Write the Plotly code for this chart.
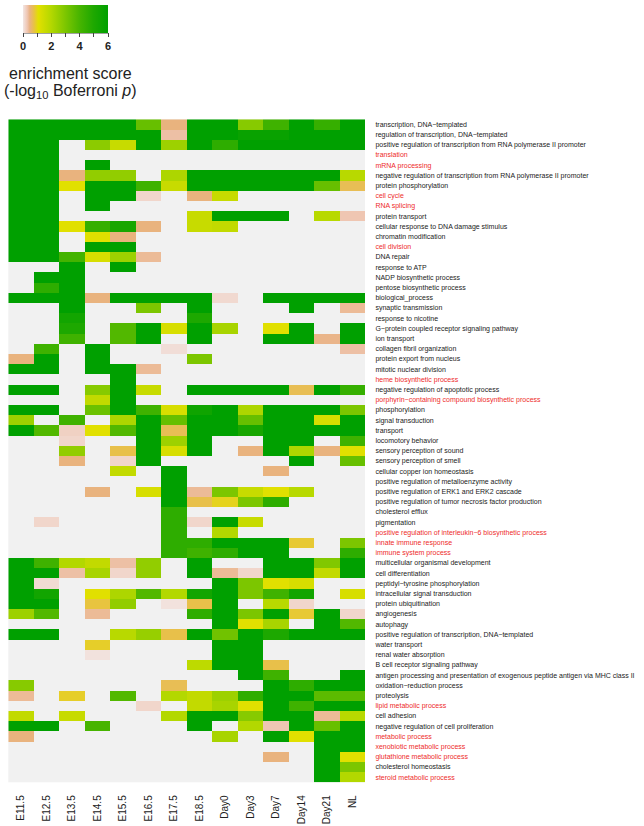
import plotly.graph_objects as go

N = None

timepoints = ["E11.5", "E12.5", "E13.5", "E14.5", "E15.5", "E16.5", "E17.5",
              "E18.5", "Day0", "Day3", "Day7", "Day14", "Day21", "NL"]

terms = [
    "transcription, DNA\u2212templated",
    "regulation of transcription, DNA\u2212templated",
    "positive regulation of transcription from RNA polymerase II promoter",
    "translation",
    "mRNA processing",
    "negative regulation of transcription from RNA polymerase II promoter",
    "protein phosphorylation",
    "cell cycle",
    "RNA splicing",
    "protein transport",
    "cellular response to DNA damage stimulus",
    "chromatin modification",
    "cell division",
    "DNA repair",
    "response to ATP",
    "NADP biosynthetic process",
    "pentose biosynthetic process",
    "biological_process",
    "synaptic transmission",
    "response to nicotine",
    "G\u2212protein coupled receptor signaling pathway",
    "ion transport",
    "collagen fibril organization",
    "protein export from nucleus",
    "mitotic nuclear division",
    "heme biosynthetic process",
    "negative regulation of apoptotic process",
    "porphyrin\u2212containing compound biosynthetic process",
    "phosphorylation",
    "signal transduction",
    "transport",
    "locomotory behavior",
    "sensory perception of sound",
    "sensory perception of smell",
    "cellular copper ion homeostasis",
    "positive regulation of metalloenzyme activity",
    "positive regulation of ERK1 and ERK2 cascade",
    "positive regulation of tumor necrosis factor production",
    "cholesterol efflux",
    "pigmentation",
    "positive regulation of interleukin\u22126 biosynthetic process",
    "innate immune response",
    "immune system process",
    "multicellular organismal development",
    "cell differentiation",
    "peptidyl\u2212tyrosine phosphorylation",
    "intracellular signal transduction",
    "protein ubiquitination",
    "angiogenesis",
    "autophagy",
    "positive regulation of transcription, DNA\u2212templated",
    "water transport",
    "renal water absorption",
    "B cell receptor signaling pathway",
    "antigen processing and presentation of exogenous peptide antigen via MHC class II",
    "oxidation\u2212reduction process",
    "proteolysis",
    "lipid metabolic process",
    "cell adhesion",
    "negative regulation of cell proliferation",
    "metabolic process",
    "xenobiotic metabolic process",
    "glutathione metabolic process",
    "cholesterol homeostasis",
    "steroid metabolic process",
]

highlighted_terms = [
    "translation", "mRNA processing", "cell cycle", "RNA splicing", "cell division",
    "heme biosynthetic process",
    "porphyrin\u2212containing compound biosynthetic process",
    "positive regulation of interleukin\u22126 biosynthetic process",
    "innate immune response", "immune system process",
    "lipid metabolic process", "metabolic process", "xenobiotic metabolic process",
    "glutathione metabolic process", "steroid metabolic process",
]

# enrichment score (-log10 Bonferroni p), one list per time point, rows in term order
E11_5 = [6, 6, 6, 6, 6, 6, 6, 6, 6, 6,
         6, 6, 6, 6, N, N, N, 6, N, N,
         N, N, N, 0.5, 6, N, 6, N, 6, 2.4,
         6, N, N, N, N, N, N, N, N, N,
         N, N, N, 6, 6, 6, 6, 6, 2.4, N,
         6, N, N, N, N, 2.8, 0.4, N, 1.7, 6,
         0.5, N, N, N, N]
E12_5 = [6, 6, 6, 6, 6, 6, 6, 6, 6, 6,
         6, 6, 6, 6, N, 6, 4.6, 6, N, N,
         N, N, 4.2, 6, 6, N, 6, N, 6, N,
         3.8, N, N, N, N, N, N, N, N, 0.15,
         N, N, N, 4.2, 6, 0.1, 5.4, 6, 3.8, N,
         6, N, N, N, N, N, N, N, N, 6,
         N, N, N, N, N]
E13_5 = [6, 6, N, N, N, 0.5, 1.1, N, N, N,
         1.1, N, N, 4.1, 6, 6, 6, 6, 6, 5.4,
         5.0, 4.2, N, N, N, N, N, N, N, 4.2,
         0.2, 0.15, 2.6, 0.5, N, N, N, N, N, N,
         N, N, N, 2.0, 0.35, N, N, N, N, N,
         N, N, N, N, N, N, 0.9, N, 1.6, N,
         N, N, N, N, N]
E14_5 = [6, 6, 2.7, N, 6, 2.6, 6, 6, 6, N,
         4.4, 1.1, 6, 1.3, N, N, N, 0.5, N, N,
         N, N, 6, 6, 6, N, 2.8, 1.7, 3.3, N,
         1.1, N, N, N, N, N, 0.5, N, N, N,
         N, N, N, 1.7, 2.2, N, 1.1, 0.8, 0.4, N,
         N, 0.9, 0.04, N, N, N, N, N, N, 4.0,
         N, N, N, N, N]
E15_5 = [6, 6, 1.6, N, N, 2.6, 6, 6, N, N,
         5.2, 0.5, 6, 2.4, 6, N, N, 6, N, N,
         3.8, 3.8, N, N, 6, 6, 6, 6, 6, 2.1,
         3.8, N, 0.75, 0.15, 1.7, N, N, N, N, N,
         N, N, N, 0.35, 0.15, N, 2.1, 2.6, N, N,
         1.9, N, N, N, N, N, 3.8, N, N, N,
         N, N, N, N, N]
E16_5 = [3.4, 6, 6, N, N, N, 4.2, 0.15, N, N,
         0.5, N, N, 0.4, N, N, N, 6, 3.0, N,
         6, 6, N, N, 0.4, N, 1.6, N, 4.2, 6,
         6, 6, 6, 6, N, N, 1.3, N, N, N,
         N, N, N, 2.6, 2.6, N, 3.8, N, N, N,
         2.5, N, N, N, N, N, N, 0.15, N, N,
         N, N, N, N, N]
E17_5 = [0.5, 0.35, 2.4, N, N, 2.1, 1.6, N, N, N,
         N, N, N, N, N, N, N, 6, N, N,
         1.3, N, 0.08, N, N, N, N, N, 1.3, 3.4,
         0.7, 2.4, 1.3, N, 6, 6, 6, 6, 4.6, 4.6,
         4.6, 4.6, 4.6, N, N, N, 2.0, 0.04, N, N,
         0.75, N, N, N, N, 0.7, 2.0, N, 2.0, N,
         N, N, N, N, N]
E18_5 = [6, 6, 6, N, N, 6, 6, 0.5, N, 1.6,
         1.6, N, N, N, N, N, N, 6, 6, 5.0,
         6, 6, N, 3.0, N, N, 6, N, 5.5, 6,
         6, 6, 6, N, N, N, 0.4, 0.75, N, 0.15,
         N, 4.6, 4.2, 6, 6, N, 5.4, 0.75, 4.6, N,
         6, N, N, 1.8, N, N, 1.7, 1.7, 6, 6,
         N, N, N, N, N]
Day0 = [6, 6, 4.6, N, N, 6, 6, 1.6, N, 6,
        1.7, N, N, N, N, N, N, 0.12, N, N,
        2.2, N, N, N, N, N, 6, N, 6, 6,
        6, N, N, N, N, N, 3.0, 0.95, N, 6,
        2.0, 6, 4.6, N, 0.4, 6, 6, 6, 6, 6,
        3.2, 6, 6, 6, N, N, 2.4, 2.2, 6, N,
        2.2, N, N, N, N]
Day3 = [2.8, 5.7, 6, N, N, 6, 6, N, N, 6,
        N, N, N, N, N, N, N, N, N, N,
        N, N, N, N, N, N, 6, N, 2.1, 3.4,
        5.2, N, 0.5, N, N, N, 1.6, 3.0, N, 1.6,
        N, 6, 6, N, 0.15, 3.0, 3.0, N, 3.0, 1.1,
        6, 6, 6, 6, 6, N, 4.6, 1.1, 2.8, 2.0,
        N, N, N, N, N]
Day7 = [4.2, 5.7, 6, N, N, 6, 6, N, N, 6,
        N, N, N, N, N, N, N, 6, N, N,
        1.1, 6, N, N, N, N, 6, N, 6, 6,
        6, 6, 6, N, 0.5, N, 1.1, 4.6, N, N,
        N, 6, 6, 6, 6, 1.1, 4.2, 1.9, 6, 2.2,
        5.0, N, N, 0.75, 4.2, 6, 6, 6, 6, 0.3,
        6, N, 0.5, N, N]
Day14 = [6, 6, 6, N, N, 6, 6, N, N, N,
         N, N, N, N, N, N, N, 6, 6, N,
         6, 6, N, N, N, N, 0.7, N, 6, 6,
         6, 6, 2.1, 6, N, N, 1.9, N, N, N,
         N, 0.85, N, 6, 6, 1.3, 5.4, 0.15, 0.85, N,
         6, N, N, N, N, 4.6, 6, 4.2, 6, 6,
         1.1, N, N, N, N]
Day21 = [4.4, 6, 6, N, N, 6, 3.4, N, N, 1.9,
         N, N, N, N, N, N, N, 6, N, N,
         N, 0.45, N, N, N, N, 6, N, 6, 1.3,
         6, N, 0.5, N, N, N, N, N, N, N,
         N, N, N, 2.9, 1.7, N, N, N, 6, 6,
         6, N, N, N, N, 6, 3.6, 6, 0.4, 3.4,
         6, 6, 6, 6, 6]
NL = [6, 6, 6, N, N, 1.9, 0.7, N, N, 0.3,
      N, N, N, N, N, N, N, 6, 0.4, N,
      6, 6, 0.35, N, N, N, 4.4, N, 3.0, 6,
      6, 4.2, 1.1, 3.4, N, N, N, N, N, N,
      N, 3.0, 4.6, 6, 6, N, 1.3, N, 0.15, 3.8,
      6, N, N, N, 6, 6, 3.6, 6, 1.9, 6,
      6, 6, 1.1, 3.0, 2.0]

columns = [E11_5, E12_5, E13_5, E14_5, E15_5, E16_5, E17_5,
           E18_5, Day0, Day3, Day7, Day14, Day21, NL]
z = [[col[i] for col in columns] for i in range(len(terms))]

score_ticks = [0, 1, 2, 3, 4, 5, 6]
score_ticktext = ["0", " ", "2", " ", "4", " ", "6"]

colorscale = [
    [0.00, "#f2e6e4"],
    [0.05, "#efc6b2"],
    [0.08, "#e9b282"],
    [0.13, "#e8c244"],
    [0.18, "#e2e000"],
    [0.33, "#b4d800"],
    [0.50, "#7cc600"],
    [0.67, "#46b400"],
    [0.83, "#1ea800"],
    [1.00, "#00a000"],
]

W, H = 644, 826
FONT = "Liberation Sans, Arial, Helvetica, sans-serif"

ticktext = [
    f"<span style='color:#ee2b2b'>{t}</span>" if t in highlighted_terms else t
    for t in terms
]

fig = go.Figure(
    go.Heatmap(
        z=z, x=timepoints, y=terms,
        colorscale=colorscale, zmin=0, zmax=6,
        hoverongaps=False,
        colorbar=dict(
            orientation="h",
            x=65.5 / W, xanchor="center",
            y=1 - 5 / H, yanchor="top",
            len=85, lenmode="pixels",
            thickness=28, thicknessmode="pixels",
            xpad=0, ypad=0,
            outlinewidth=0,
            tickmode="array", tickvals=score_ticks, ticktext=score_ticktext,
            ticks="outside", ticklen=4, tickwidth=1, tickcolor="#444",
            tickfont=dict(family=FONT, size=11, color="#222", weight="bold"),
        ),
    )
)

fig.update_layout(
    width=W, height=H,
    margin=dict(l=0, r=0, t=0, b=0),
    paper_bgcolor="white",
    plot_bgcolor="#f1f1f1",
    font=dict(family=FONT, color="#222"),
    xaxis=dict(
        domain=[8.3 / W, 365.0 / W],
        tickangle=-90,
        tickfont=dict(family=FONT, size=10, color="#222"),
        ticks="outside", ticklen=8, tickcolor="rgba(0,0,0,0)",
        showgrid=False, zeroline=False, showline=False,
    ),
    yaxis=dict(
        domain=[1 - 782.3 / H, 1 - 119.3 / H],
        autorange="reversed",
        side="right",
        tickmode="array", tickvals=terms, ticktext=ticktext,
        tickfont=dict(family=FONT, size=7, color="#222"),
        ticks="outside", ticklen=8, tickcolor="rgba(0,0,0,0)",
        showgrid=False, zeroline=False, showline=False,
    ),
    annotations=[
        dict(text="enrichment score", xref="paper", yref="paper",
             x=70 / W, y=1 - 73 / H, xanchor="center", yanchor="middle",
             showarrow=False, font=dict(family=FONT, size=16, color="#222")),
        dict(text="(-log<sub>10</sub> Boferroni <i>p</i>)", xref="paper", yref="paper",
             x=70 / W, y=1 - 91 / H, xanchor="center", yanchor="middle",
             showarrow=False, font=dict(family=FONT, size=16, color="#222")),
    ],
    shapes=[
        dict(type="line", xref="paper", yref="paper",
             x0=23 / W, x1=108 / W, y0=1 - 33 / H, y1=1 - 33 / H,
             line=dict(color="#444", width=1)),
    ],
)

fig.write_html("out.html", config={"displayModeBar": False},
               post_script="document.body.style.margin='0';")
